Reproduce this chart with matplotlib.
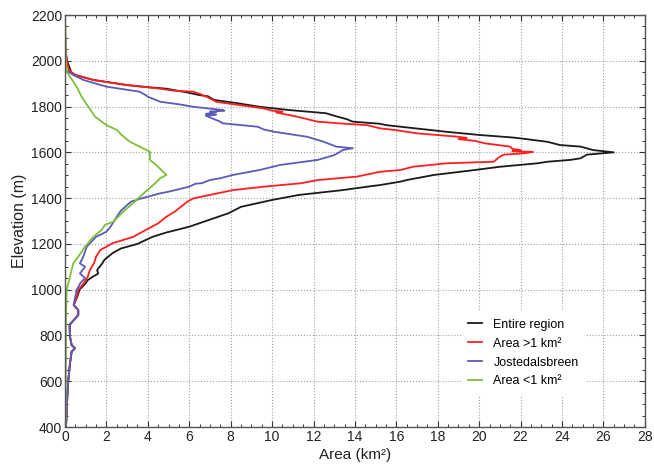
import numpy as np
import matplotlib
matplotlib.use("Agg")
import matplotlib.pyplot as plt
from matplotlib.ticker import MultipleLocator

# --- Data ---
# tail shared by the curves below ~950 m (drawn under the blue line)
tail_elev = [933, 911, 889, 867, 846, 795, 758, 744, 729, 678, 605, 532, 460, 405]
tail_area = [0.42, 0.64, 0.64, 0.42, 0.22, 0.24, 0.32, 0.48, 0.32, 0.24, 0.16, 0.11, 0.08, 0.05]

entire_elev = [2150, 2050, 2000, 1975, 1950, 1938, 1916, 1894, 1884, 1882, 1878, 1860, 1850,
               1845, 1829, 1815, 1799, 1785, 1771, 1760, 1745, 1734, 1725, 1719, 1712, 1700,
               1690, 1676, 1665, 1661, 1646, 1632, 1625, 1610, 1600, 1590, 1574, 1567, 1559,
               1552, 1537, 1523, 1501, 1479, 1472, 1457, 1450, 1435, 1414, 1392, 1362, 1334,
               1300, 1275, 1250, 1230, 1200, 1180, 1160, 1130, 1115, 1086, 1070, 1057, 1042,
               1028, 1000, 970, 950] + tail_elev
entire_area = [0.0, 0.02, 0.1, 0.2, 0.3, 0.5, 1.4, 3.0, 4.1, 4.4, 4.9, 6.0, 6.5,
               6.9, 7.2, 8.3, 9.4, 10.8, 12.6, 13.0, 13.6, 13.9, 15.2, 15.5, 16.2, 17.4,
               18.4, 20.0, 21.6, 22.0, 23.3, 23.9, 24.9, 25.5, 26.5, 25.2, 24.9, 24.4, 23.3,
               22.8, 21.0, 19.8, 17.8, 16.5, 16.2, 15.2, 14.6, 13.4, 11.3, 10.0, 8.5, 7.9,
               6.8, 6.0, 4.9, 4.2, 3.5, 2.7, 2.3, 1.9, 1.8, 1.55, 1.6, 1.35, 1.1,
               1.0, 0.7, 0.6, 0.5] + tail_area

large_elev = [2150, 2050, 2003, 1960, 1938, 1916, 1894, 1882, 1878, 1870, 1865, 1852, 1840,
              1821, 1808, 1792, 1782, 1778, 1774, 1756, 1734, 1725, 1719, 1705, 1698, 1683,
              1668, 1663, 1658, 1650, 1639, 1625, 1615, 1610, 1605, 1602, 1596, 1590, 1581,
              1559, 1552, 1537, 1523, 1515, 1494, 1479, 1465, 1450, 1435, 1414, 1399, 1384,
              1341, 1319, 1290, 1261, 1231, 1203, 1173, 1144, 1115, 1086, 1057, 1028, 1000,
              962] + tail_elev
large_area = [0.0, 0.02, 0.08, 0.18, 0.48, 1.37, 2.98, 4.2, 4.6, 5.2, 6.2, 6.6, 6.9,
              7.3, 8.3, 9.6, 10.0, 10.5, 10.2, 11.2, 12.2, 13.5, 14.6, 15.2, 15.9, 17.0,
              19.0, 19.4, 19.0, 19.8, 20.3, 21.5, 21.6, 22.0, 21.6, 22.6, 22.2, 21.2, 21.0,
              20.7, 18.4, 16.8, 16.2, 15.2, 14.1, 12.2, 11.4, 9.6, 8.1, 7.0, 6.2, 5.9,
              5.3, 4.9, 4.5, 3.9, 3.3, 2.3, 1.7, 1.5, 1.4, 1.2, 1.1, 0.9, 0.65,
              0.55] + tail_area

jost_elev = [2100, 1960, 1938, 1916, 1887, 1865, 1850, 1843, 1821, 1810, 1799, 1785, 1782,
             1778, 1775, 1768, 1764, 1760, 1745, 1734, 1727, 1712, 1700, 1690, 1668, 1646,
             1625, 1618, 1610, 1603, 1588, 1567, 1545, 1523, 1501, 1487, 1479, 1465, 1463,
             1450, 1428, 1421, 1399, 1385, 1370, 1345, 1319, 1275, 1253, 1231, 1188, 1144,
             1115, 1100, 1071, 1050, 1030, 998, 962] + tail_elev
jost_area = [0.0, 0.02, 0.4, 0.9, 2.0, 3.6, 3.9, 4.0, 4.6, 5.5, 6.2, 7.6, 7.7,
             7.0, 7.3, 6.8, 7.3, 6.8, 7.2, 7.5, 7.6, 9.3, 9.6, 10.1, 11.7, 12.5,
             13.1, 13.9, 13.4, 13.3, 13.0, 12.2, 10.4, 9.4, 8.1, 7.5, 7.0, 6.6, 6.3,
             6.0, 5.0, 4.6, 3.7, 3.2, 3.0, 2.7, 2.5, 2.2, 2.0, 1.5, 1.05, 0.88,
             0.72, 0.97, 0.72, 0.97, 0.75, 0.56, 0.48] + tail_area

small_elev = [2160, 2050, 2000, 1952, 1930, 1887, 1843, 1799, 1756, 1719, 1698, 1676, 1646,
              1625, 1603, 1567, 1545, 1501, 1487, 1465, 1421, 1392, 1348, 1297, 1283, 1261,
              1231, 1188, 1144, 1115, 1057, 998, 900, 700, 500, 410]
small_area = [0.02, 0.03, 0.04, 0.08, 0.24, 0.56, 0.8, 1.13, 1.45, 2.0, 2.5, 2.73, 3.14,
              3.6, 4.1, 4.1, 4.4, 4.9, 4.6, 4.35, 3.8, 3.46, 2.9, 2.33, 1.93, 1.77,
              1.37, 0.97, 0.64, 0.4, 0.24, 0.08, 0.05, 0.04, 0.03, 0.02]

labels = ["Entire region", "Area >1 km\u00b2", "Jostedalsbreen", "Area <1 km\u00b2"]
colors = ["#1a1a1a", "#ff1f1f", "#5a5ab8", "#7cbf3a"]

plt.rcParams['font.family'] = ['Liberation Sans', 'DejaVu Sans']

fig = plt.figure(figsize=(6.54, 4.65), dpi=100)
ax = fig.add_axes([0.0994, 0.0817, 0.8866, 0.886])

series = [(entire_area, entire_elev), (large_area, large_elev),
          (jost_area, jost_elev), (small_area, small_elev)]
for (a, e), lab, c in zip(series, labels, colors):
    ax.plot(a, e, color=c, lw=1.3, label=lab)

ax.set_xlim(0, 28)
ax.set_ylim(400, 2200)
ax.xaxis.set_major_locator(MultipleLocator(2))
ax.xaxis.set_minor_locator(MultipleLocator(0.5))
ax.yaxis.set_major_locator(MultipleLocator(200))
ax.yaxis.set_minor_locator(MultipleLocator(50))
ax.tick_params(which='both', direction='in', top=True, right=True, labelsize=10,
               colors='#333333', labelcolor='#222222', pad=2)
ax.tick_params(which='major', length=4, width=0.8)
ax.tick_params(which='minor', length=2.5, width=0.7)
for s in ax.spines.values():
    s.set_color('#555555')
    s.set_linewidth(1.0)

ax.grid(True, which='major', linestyle=':', color='#a0a0a0', lw=0.8)
ax.set_axisbelow(True)

ax.set_xlabel("Area (km\u00b2)", fontsize=11, labelpad=3, color='#222222')
ax.set_ylabel("Elevation (m)", fontsize=11.5, labelpad=3, color='#222222')

leg = ax.legend(loc='upper left', bbox_to_anchor=(0.672, 0.296), fontsize=9,
                frameon=True, handlelength=1.1, handletextpad=0.9, labelspacing=0.55,
                borderpad=0.6)
leg.get_frame().set_edgecolor('none')
leg.get_frame().set_facecolor('white')
leg.get_frame().set_alpha(1.0)

fig.savefig("out.png", dpi=100)
